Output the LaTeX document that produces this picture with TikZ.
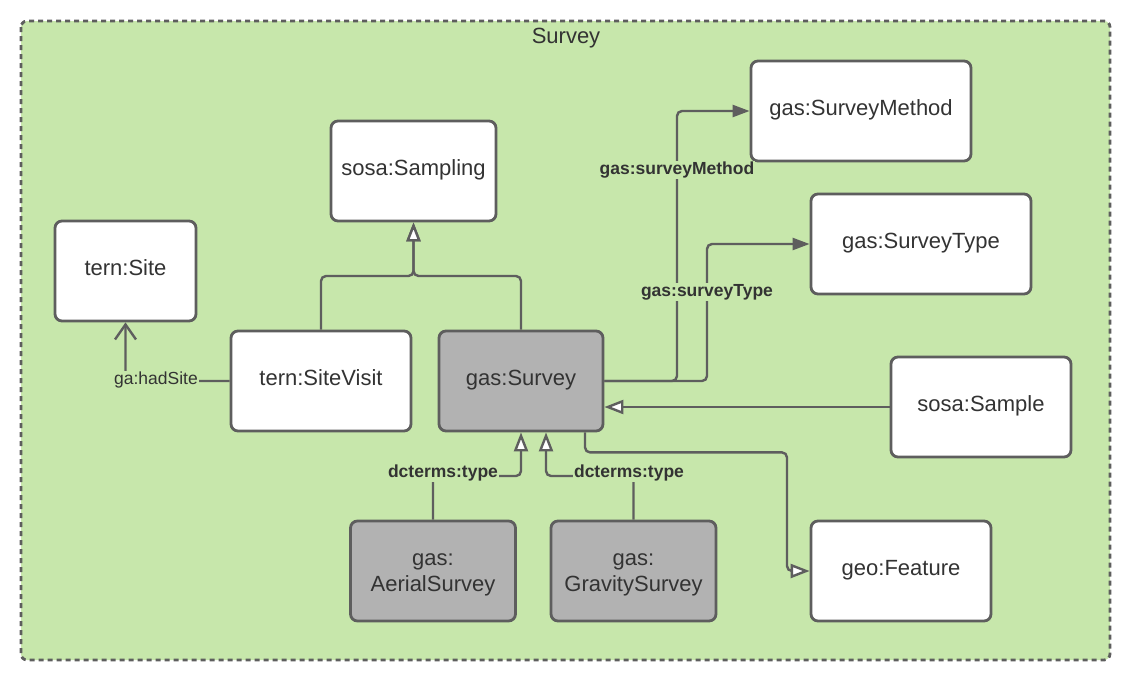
\documentclass[tikz,border=0pt]{standalone}
\usepackage{fontspec}
\setmainfont{Liberation Sans}
\usetikzlibrary{arrows.meta}
\definecolor{bggreen}{HTML}{C7E7AB}
\definecolor{linegray}{HTML}{5E5E5E}
\definecolor{boxgray}{HTML}{B2B2B2}
\definecolor{txt}{HTML}{333333}
\begin{document}
\begin{tikzpicture}[x=1pt,y=-1pt,
  boxbase/.style={draw=linegray, line width=2.8pt, rounded corners=7pt, fill=white,
    font=\fontsize{22}{26}\selectfont, text=txt, inner sep=0pt,
    minimum height=100pt},
  box/.style={boxbase, text height=16pt, text depth=8pt},
  graybox/.style={box, fill=boxgray},
  twoline/.style={boxbase, fill=boxgray, align=center},
  edge/.style={draw=linegray, line width=2.4pt, rounded corners=5pt},
  lbl/.style={fill=bggreen, inner sep=1pt, text=txt, font=\fontsize{17.5}{20}\selectfont},
  blbl/.style={lbl, font=\fontsize{17.5}{20}\selectfont\bfseries},
  opentip/.style={-{Triangle[open, fill=white, length=19pt, width=14pt]}},
  filltip/.style={-{Triangle[length=17pt,width=12pt]}},
  barbtip/.style={-{Straight Barb[length=15pt,width=21pt]}}
]
\useasboundingbox (0,0) rectangle (1133,683);
% container
\draw[draw=linegray, line width=2.8pt, dash pattern=on 5pt off 4pt, rounded corners=6pt, fill=bggreen]
  (21,21) rectangle (1110,660);
\node[text=txt, font=\fontsize{22}{26}\selectfont] (title) at (566,38) {Survey};

% nodes
\node[box, minimum width=165pt] (sampling) at (413.5,171) {sosa:Sampling};
\node[box, minimum width=141pt] (site) at (125.5,271) {tern:Site};
\node[box, minimum width=180pt] (sv) at (321,381) {tern:SiteVisit};
\node[graybox, minimum width=164pt] (survey) at (521,381) {gas:Survey};
\node[box, minimum width=220pt] (method) at (861,111) {gas:SurveyMethod};
\node[box, minimum width=220pt] (stype) at (921,244) {gas:SurveyType};
\node[box, minimum width=180pt] (sample) at (981,407) {sosa:Sample};
\node[box, minimum width=180pt] (feature) at (901,571) {geo:Feature};
\node[twoline, minimum width=165pt] (aerial) at (433,571) {\rule{0pt}{18.6pt}gas:\\AerialSurvey};
\node[twoline, minimum width=165pt] (gravity) at (633.5,571) {\rule{0pt}{18.6pt}gas:\\GravitySurvey};

% subclass to sosa:Sampling
\coordinate (j) at (413.5,276);
\draw[edge, opentip] (sv.north) |- (j) -- (sampling.south);
\draw[edge, opentip] (survey.north) |- (j) -- (sampling.south);

% ga:hadSite
\draw[edge, barbtip] (sv.west) -| (site.south);
\node[lbl] (hs) at (156,380) {ga:hadSite};

% surveyMethod / surveyType
\draw[edge, filltip] (survey.east) -| (677,111) -- (method.west);
\draw[edge, filltip] (survey.east) -| (707,244) -- (stype.west);
\node[blbl] (lm) at (677,170) {gas:surveyMethod};
\node[blbl] (lt) at (707,292) {gas:surveyType};

% sosa:Sample -> gas:Survey
\draw[edge, opentip] (sample.west) -- (survey.east |- sample.west);

% gas:Survey -> geo:Feature
\draw[edge, opentip] ([xshift=64pt]survey.south) -- ++(0,20) -| (787,571) -- (feature.west);

% dcterms:type
\draw[edge, opentip] (aerial.north) |- (521,476) -- (survey.south);
\draw[edge, opentip] (gravity.north) |- (546,476) -- ([xshift=25pt]survey.south);
\node[blbl] (d1) at (443,473) {dcterms:type};
\node[blbl] (d2) at (629,473) {dcterms:type};
\end{tikzpicture}
\end{document}
